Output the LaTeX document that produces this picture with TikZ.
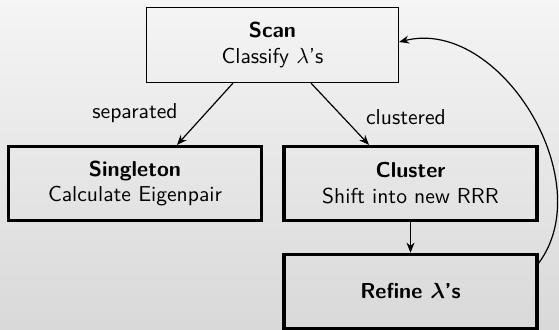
\documentclass[tikz,border=0pt]{standalone}
\usetikzlibrary{arrows.meta}
\begin{document}
\begin{tikzpicture}[x=0.5pt,y=-0.5pt,
  every node/.style={font=\fontsize{10.8}{13}\selectfont\sffamily},
  thinbox/.style={draw=black,line width=0.6pt,minimum width=126pt,minimum height=37.5pt,inner sep=0pt,align=center},
  thickbox/.style={draw=black,line width=1.6pt,minimum width=126.5pt,minimum height=37pt,inner sep=0pt,align=center},
  conn/.style={line width=0.6pt,-{Stealth[length=5pt,width=4pt]}},
  lbl/.style={inner sep=0pt}]
\useasboundingbox (0,0) rectangle (559,330);
\shade[top color=black!4,bottom color=black!15] (0,0) rectangle (559,330);
\node[thinbox] (scan) at (272.5,45) {\textbf{Scan}\\Classify $\lambda$'s};
\node[thickbox] (single) at (135,183.5) {\textbf{Singleton}\\Calculate Eigenpair};
\node[thickbox] (cluster) at (410.5,183.5) {\textbf{Cluster}\\Shift into new RRR};
\node[thickbox] (refine) at (410.5,291.25) {\textbf{Refine \boldmath$\lambda$'s}};
\draw[conn] ([xshift=-19.75pt]scan.south) -- ([xshift=21pt]single.north);
\draw[conn] ([xshift=19.25pt]scan.south) -- ([xshift=-20.75pt]cluster.north);
\draw[conn] (cluster.south) -- (refine.north);
\draw[conn] ([yshift=14pt]refine.east) .. controls +(62,-83) and +(100,-25) .. ([yshift=1.5pt]scan.east);
\node[lbl] (lsep) at (135,113) {separated};
\node[lbl] (lclu) at (406,117) {clustered};
\end{tikzpicture}
\end{document}
